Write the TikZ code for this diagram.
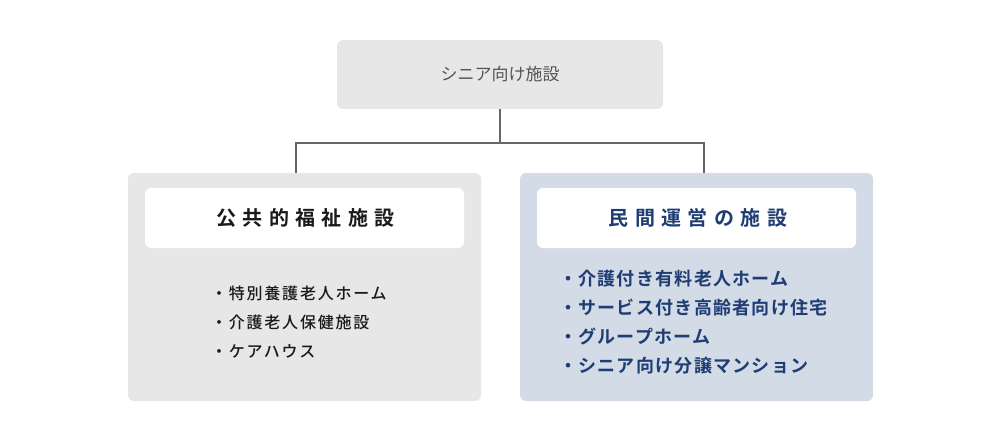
\documentclass[tikz,border=0pt]{standalone}
\usepackage{fontspec}
\setmainfont{Noto Sans CJK JP}[BoldFont={Noto Sans CJK JP Bold}]
\newfontfamily\jpmed{Noto Sans CJK JP Medium}
\definecolor{boxgray}{HTML}{E7E7E7}
\definecolor{boxblue}{HTML}{D3DBE7}
\definecolor{linegray}{HTML}{666666}
\definecolor{navy}{HTML}{1E3D73}
\definecolor{toptext}{HTML}{555555}
\definecolor{darktext}{HTML}{1A1A1A}
\tikzset{
  panel/.style={draw=none, rounded corners=6pt, inner sep=0pt},
  tbox/.style={fill=white, rounded corners=6pt, inner sep=0pt, draw=none},
  titletext/.style={inner sep=0pt, font=\fontsize{20}{24}\selectfont\bfseries\addfontfeature{LetterSpace=32}},
  itemL/.style={anchor=west, inner sep=0pt, text=darktext, font=\jpmed\fontsize{16}{20}\selectfont\addfontfeature{LetterSpace=11}},
  itemR/.style={anchor=west, inner sep=0pt, text=navy, font=\fontsize{18}{20}\selectfont\bfseries\addfontfeature{LetterSpace=7}},
  conn/.style={draw=linegray, line width=2pt},
}
\begin{document}
\begin{tikzpicture}[x=1pt,y=-1pt]
\useasboundingbox (0,0) rectangle (1000,441);
% top box
\node[panel, fill=boxgray, minimum width=326pt, minimum height=69pt,
      text=toptext, font=\fontsize{17}{20}\selectfont] (top) at (500,74.5) {シニア向け施設};
% left panel
\node[panel, fill=boxgray, minimum width=353pt, minimum height=228pt] (left) at (304.5,287) {};
\node[tbox, minimum width=319pt, minimum height=60pt] (lt) at (304.5,218) {};
\node[titletext, text=darktext] (ltt) at (305.5,218) {公共的福祉施設};
\node[itemL] (l1) at (211,293) {・特別養護老人ホーム};
\node[itemL] (l2) at (211,322) {・介護老人保健施設};
\node[itemL] (l3) at (211,351) {・ケアハウス};
% right panel
\node[panel, fill=boxblue, minimum width=353pt, minimum height=228pt] (right) at (696.5,287) {};
\node[tbox, minimum width=319pt, minimum height=60pt] (rt) at (696.5,218) {};
\node[titletext, text=navy] (rtt) at (698,218) {民間運営の施設};
\node[itemR] (r1) at (559,279) {・介護付き有料老人ホーム};
\node[itemR] (r2) at (559,308) {・サービス付き高齢者向け住宅};
\node[itemR] (r3) at (559,337) {・グループホーム};
\node[itemR] (r4) at (559,366) {・シニア向け分譲マンション};
% connectors
\coordinate (j) at (500,143);
\coordinate (lin) at (296,173);
\coordinate (rin) at (704,173);
\draw[conn] (top.south) -- (j);
\draw[conn] (j) -| (lin);
\draw[conn] (j) -| (rin);
\end{tikzpicture}
\end{document}
